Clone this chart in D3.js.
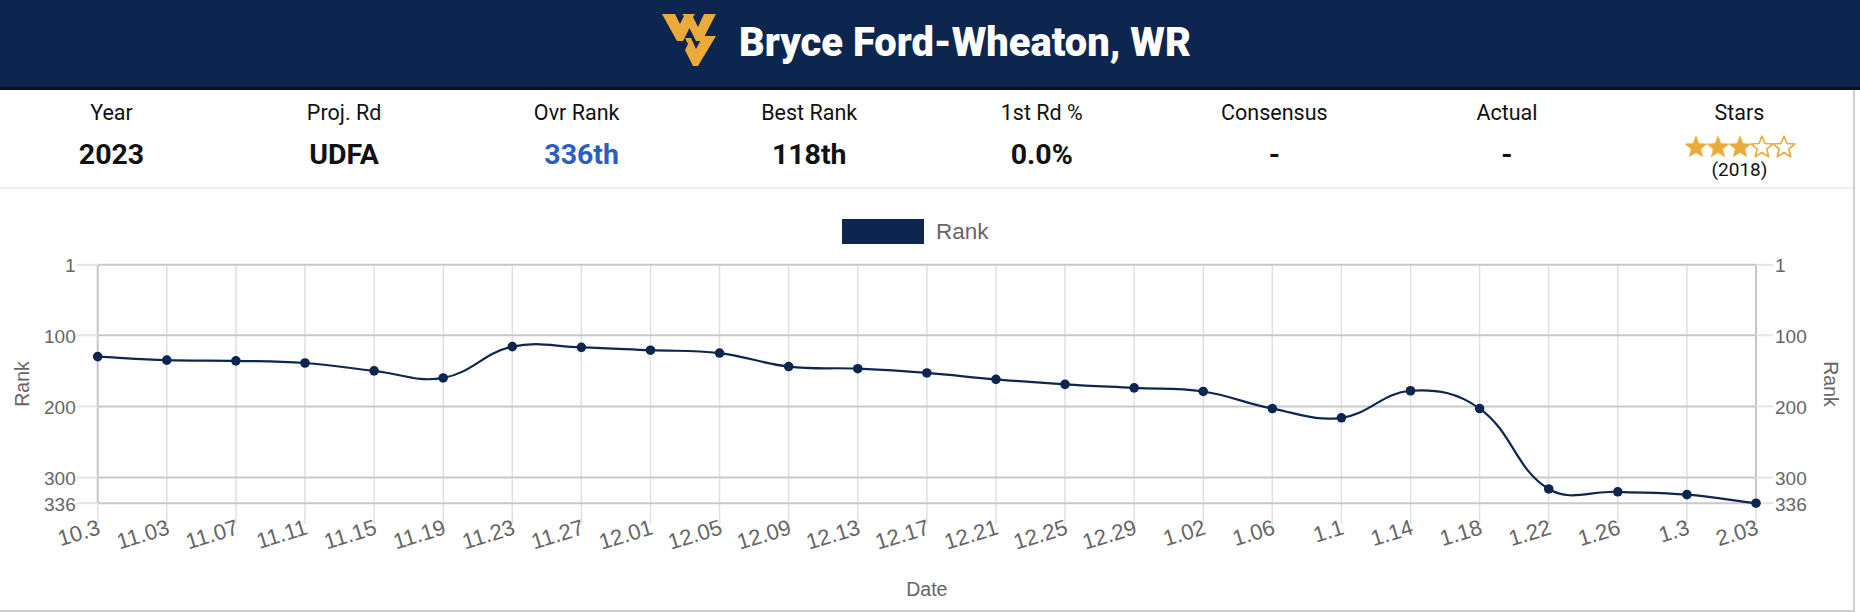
<!DOCTYPE html>
<html><head><meta charset="utf-8">
<script src="https://cdn.jsdelivr.net/npm/d3@7/dist/d3.min.js"></script>
<style>html,body{margin:0;padding:0;background:#fff;overflow:hidden}svg{display:block}</style>
</head><body>
<svg id="c" width="1860" height="612"></svg>
<script>
// ---------- data ----------
const playerTitle = "Bryce Ford-Wheaton, WR";
const statLabels = ["Year", "Proj. Rd", "Ovr Rank", "Best Rank", "1st Rd %", "Consensus", "Actual", "Stars"];
const statValues = ["2023", "UDFA", "336th", "118th", "0.0%", "-", "-", ""];
const starRating = 3;
const starMax = 5;
const starYear = "(2018)";
const seriesName = "Rank";
const dates = ["10.3", "11.03", "11.07", "11.11", "11.15", "11.19", "11.23", "11.27", "12.01", "12.05",
  "12.09", "12.13", "12.17", "12.21", "12.25", "12.29", "1.02", "1.06", "1.1", "1.14",
  "1.18", "1.22", "1.26", "1.3", "2.03"];
const ranks = [130, 135, 136, 139, 150, 160, 116, 117, 121, 125,
  144, 147, 153, 162, 169, 174, 179, 203, 216, 178,
  203, 316, 320, 324, 336];
const yTickValues = [1, 100, 200, 300, 336];
const xTitle = "Date";
const yTitle = "Rank";

// ---------- styles ----------
const navy = "#0d2650";
const gold = "#eaab3b";
const chartFont = "'Helvetica Neue', Helvetica, 'Liberation Sans', Arial, sans-serif";

const svg = d3.select("#c");

// header
svg.append("rect").attr("x", 0).attr("y", 0).attr("width", 1860).attr("height", 87).attr("fill", navy);
svg.append("rect").attr("x", 0).attr("y", 87).attr("width", 1860).attr("height", 3).attr("fill", "#111");

// logo (flying WV, simplified)
const logo = svg.append("g").attr("transform", "translate(662,14)").attr("fill", gold);
logo.append("path").attr("d", "M0,0 L13,0 L18,10 L22,2 L20,0 L33,0 L31,3 L36,13 L42,0 L54,0 L40,27 L34,27 L27.5,14 L21,27 L15,27 Z");
logo.append("path").attr("d", "M23,24 L29,24 L34,35 L41,22 L54,22 L36,52 L31,52 L23,36 L26,30 Z");

svg.append("text").attr("x", 739).attr("y", 56)
  .attr("font-family", "Roboto").attr("font-weight", 900).attr("font-size", 40)
  .attr("textLength", 452).attr("lengthAdjust", "spacingAndGlyphs")
  .attr("fill", "#fff").text(playerTitle);

// stats row
const colX = d3.scaleLinear().domain([0, 7]).range([111.5, 1739.5]);
statLabels.forEach((l, i) => {
  svg.append("text").attr("x", colX(i)).attr("y", 120).attr("text-anchor", "middle")
    .attr("font-family", "Roboto").attr("font-size", 21.5).attr("fill", "#111").text(l);
  if (statValues[i]) {
    svg.append("text").attr("x", colX(i) + (i === 2 ? 5 : 0)).attr("y", 164).attr("text-anchor", "middle")
      .attr("font-family", "Roboto").attr("font-weight", 700).attr("font-size", 28.5)
      .attr("fill", i === 2 ? "#2b5ec0" : "#111").text(statValues[i]);
  }
});
// stars
function starPath(cx, cy, R, r) {
  const pts = [];
  for (let k = 0; k < 10; k++) {
    const a = -Math.PI / 2 + k * Math.PI / 5;
    const rad = k % 2 === 0 ? R : r;
    pts.push([cx + rad * Math.cos(a), cy + rad * Math.sin(a)]);
  }
  return "M" + pts.map(p => p[0].toFixed(2) + "," + p[1].toFixed(2)).join("L") + "Z";
}
const starX = d3.scaleLinear().domain([0, starMax - 1]).range([1696, 1784]);
d3.range(starMax).forEach(k => {
  svg.append("path").attr("d", starPath(starX(k), 147.5, 11.5, 5))
    .attr("fill", k < starRating ? gold : "#fff")
    .attr("stroke", gold).attr("stroke-width", k < starRating ? 0.5 : 1.6)
    .attr("stroke-linejoin", "round");
});
svg.append("text").attr("x", colX(7)).attr("y", 176).attr("text-anchor", "middle")
  .attr("font-family", "Roboto").attr("font-size", 19).attr("fill", "#111").text(starYear);

// separator and card border
svg.append("rect").attr("x", 0).attr("y", 187).attr("width", 1853).attr("height", 2).attr("fill", "#efefef");
svg.append("rect").attr("x", 1853).attr("y", 90).attr("width", 2).attr("height", 522).attr("fill", "#cfcfcf");
svg.append("rect").attr("x", 0).attr("y", 610).attr("width", 1855).attr("height", 2).attr("fill", "#cfcfcf");

// ---------- chart ----------
const x = d3.scalePoint().domain(dates).range([97.7, 1756]);
const y = d3.scaleLinear().domain([1, 336]).range([264.8, 503.2]);
const plotL = 97.7, plotR = 1756, plotT = y(1), plotB = y(336);

const grid = svg.append("g");
// vertical gridlines + tick marks
dates.forEach((d, i) => {
  const edge = i === 0 || i === dates.length - 1;
  grid.append("line").attr("x1", x(d)).attr("x2", x(d)).attr("y1", plotT).attr("y2", plotB)
    .attr("stroke", edge ? "#c6c6c6" : "#e0e0e0").attr("stroke-width", edge ? 2 : 1.5);
  grid.append("line").attr("x1", x(d)).attr("x2", x(d)).attr("y1", plotB).attr("y2", plotB + 21)
    .attr("stroke", "#e0e0e0").attr("stroke-width", 1.5);
});
// horizontal gridlines + tick marks
yTickValues.forEach(v => {
  grid.append("line").attr("x1", plotL).attr("x2", plotR).attr("y1", y(v)).attr("y2", y(v))
    .attr("stroke", "#c9c9c9").attr("stroke-width", 2);
  grid.append("line").attr("x1", plotL - 21).attr("x2", plotL).attr("y1", y(v)).attr("y2", y(v))
    .attr("stroke", "#e4e4e4").attr("stroke-width", 2);
  grid.append("line").attr("x1", plotR).attr("x2", plotR + 17).attr("y1", y(v)).attr("y2", y(v))
    .attr("stroke", "#e4e4e4").attr("stroke-width", 2);
});

// y axes (labels)
const yAxisL = d3.axisLeft(y).tickValues(yTickValues).tickSize(0).tickPadding(0).tickFormat(d3.format("d"));
const gL = svg.append("g").attr("transform", `translate(${plotL - 22},0)`).call(yAxisL);
const yAxisR = d3.axisRight(y).tickValues(yTickValues).tickSize(0).tickPadding(0).tickFormat(d3.format("d"));
const gR = svg.append("g").attr("transform", `translate(${plotR + 19},0)`).call(yAxisR);
[gL, gR].forEach(g => {
  g.select(".domain").remove();
  g.selectAll("text").attr("font-family", chartFont).attr("font-size", 19).attr("fill", "#666").attr("dy", "0.36em");
});

// x axis labels (rotated)
const xAxis = d3.axisBottom(x).tickSize(0).tickPadding(0);
const gX = svg.append("g").attr("transform", `translate(0,${plotB})`).call(xAxis);
gX.select(".domain").remove();
gX.selectAll("text").attr("font-family", chartFont).attr("font-size", 22).attr("fill", "#666")
  .attr("text-anchor", "end").attr("dy", "0.36em").attr("y", 0)
  .attr("transform", "translate(1,23) rotate(-17)");

// axis titles
svg.append("text").attr("x", (plotL + plotR) / 2).attr("y", 596).attr("text-anchor", "middle")
  .attr("font-family", chartFont).attr("font-size", 19.5).attr("fill", "#666").text(xTitle);
svg.append("text").attr("transform", `translate(29,${(plotT + plotB) / 2}) rotate(-90)`).attr("text-anchor", "middle")
  .attr("font-family", chartFont).attr("font-size", 19.5).attr("fill", "#666").text(yTitle);
svg.append("text").attr("transform", `translate(1824,${(plotT + plotB) / 2}) rotate(90)`).attr("text-anchor", "middle")
  .attr("font-family", chartFont).attr("font-size", 19.5).attr("fill", "#666").text(yTitle);

// legend
svg.append("rect").attr("x", 842).attr("y", 219).attr("width", 82).attr("height", 25).attr("fill", navy);
svg.append("text").attr("x", 936).attr("y", 238.5).attr("font-family", chartFont).attr("font-size", 22.5)
  .attr("fill", "#666").text(seriesName);

// Chart.js-style spline curve
function chartjsCurve(context) {
  let pts = [];
  return {
    areaStart() {}, areaEnd() {},
    lineStart() { pts = []; },
    point(px, py) { pts.push([+px, +py]); },
    lineEnd() {
      const t = 0.4, n = pts.length;
      if (!n) return;
      const cps = pts.map((p, i) => {
        const prev = pts[i - 1] || p, next = pts[i + 1] || p;
        const d01 = Math.hypot(p[0] - prev[0], p[1] - prev[1]);
        const d12 = Math.hypot(next[0] - p[0], next[1] - p[1]);
        let s01 = d01 / (d01 + d12), s12 = d12 / (d01 + d12);
        if (isNaN(s01)) s01 = 0; if (isNaN(s12)) s12 = 0;
        const fa = t * s01, fb = t * s12;
        return {
          prev: [p[0] - fa * (next[0] - prev[0]), Math.min(plotB, Math.max(plotT, p[1] - fa * (next[1] - prev[1])))],
          next: [p[0] + fb * (next[0] - prev[0]), Math.min(plotB, Math.max(plotT, p[1] + fb * (next[1] - prev[1])))]
        };
      });
      context.moveTo(pts[0][0], pts[0][1]);
      for (let i = 1; i < n; i++) {
        context.bezierCurveTo(cps[i - 1].next[0], cps[i - 1].next[1], cps[i].prev[0], cps[i].prev[1], pts[i][0], pts[i][1]);
      }
    }
  };
}

const data = dates.map((d, i) => ({ d, r: ranks[i] }));
const line = d3.line().x(p => x(p.d)).y(p => y(p.r)).curve(chartjsCurve);
svg.append("path").datum(data).attr("d", line).attr("fill", "none").attr("stroke", navy).attr("stroke-width", 2.2);
svg.append("g").selectAll("circle").data(data).join("circle")
  .attr("cx", p => x(p.d)).attr("cy", p => y(p.r)).attr("r", 4.8).attr("fill", navy);
</script>
</body></html>
